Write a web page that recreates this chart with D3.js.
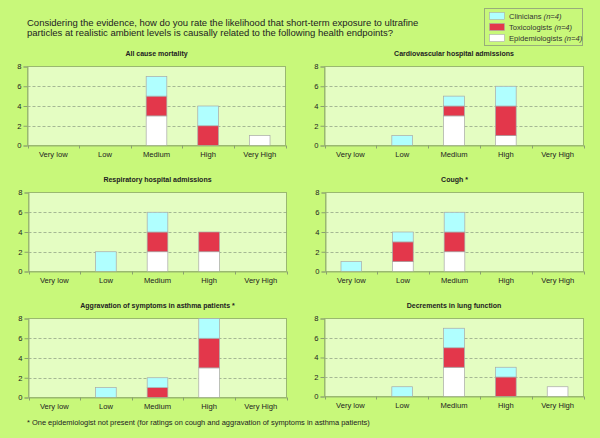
<!DOCTYPE html>
<html><head><meta charset="utf-8">
<script src="https://cdn.jsdelivr.net/npm/d3@7"></script>
<style>body{margin:0;background:#c8f87a;} svg{display:block;font-family:"Liberation Sans",Arial,sans-serif;}</style>
</head><body>
<svg id="c" width="600" height="438"></svg>
<script>
const categories = ["Very low","Low","Medium","High","Very High"];
const groups = ["Epidemiologists","Toxicologists","Clinicians"];
const groupColors = {"Clinicians":"#b0ffff","Toxicologists":"#e3374b","Epidemiologists":"#ffffff"};
const yTicks = [0,2,4,6,8];
const panelTitles = ["All cause mortality","Cardiovascular hospital admissions","Respiratory hospital admissions","Cough *","Aggravation of symptoms in asthma patients *","Decrements in lung function"];
// values per category: [Epidemiologists, Toxicologists, Clinicians]
const mortality      = [[0,0,0],[0,0,0],[3,2,2],[0,2,2],[1,0,0]];
const cardiovascular = [[0,0,0],[0,0,1],[3,1,1],[1,3,2],[0,0,0]];
const respiratory    = [[0,0,0],[0,0,2],[2,2,2],[2,2,0],[0,0,0]];
const cough          = [[0,0,1],[1,2,1],[2,2,2],[0,0,0],[0,0,0]];
const asthma         = [[0,0,0],[0,0,1],[0,1,1],[3,3,2],[0,0,0]];
const lungFunction   = [[0,0,0],[0,0,1],[3,2,2],[0,2,1],[1,0,0]];
const panelData = [mortality,cardiovascular,respiratory,cough,asthma,lungFunction];

const svg = d3.select("#c");
svg.append("rect").attr("width",600).attr("height",438).attr("fill","#c8f87a");

const title = svg.append("text").attr("font-size",9.5).attr("fill","#222");
title.append("tspan").attr("x",27).attr("y",25.5).text("Considering the evidence, how do you rate the likelihood that short-term exposure to ultrafine");
title.append("tspan").attr("x",27).attr("y",35.5).text("particles at realistic ambient levels is causally related to the following health endpoints?");

// legend
const lg = svg.append("g");
lg.append("rect").attr("x",484.5).attr("y",8.5).attr("width",98).attr("height",37).attr("fill","#c8f87a").attr("stroke","#98ad7a");
["Clinicians","Toxicologists","Epidemiologists"].forEach((g,i)=>{
  const y = 12.5 + i*11;
  lg.append("rect").attr("x",489.5).attr("y",y).attr("width",15).attr("height",7).attr("fill",groupColors[g]).attr("stroke","#aaa").attr("stroke-width",0.6);
  const t = lg.append("text").attr("x",509).attr("y",y+6.5).attr("font-size",7.6).attr("fill","#333");
  t.append("tspan").text(g+" ");
  t.append("tspan").attr("font-style","italic").text("(n=4)");
});

const panels = [
  {x0:27.5,x1:285.5,y0:66.5,y1:145.5},
  {x0:324.5,x1:583.5,y0:66.5,y1:145.5},
  {x0:28.5,x1:286.5,y0:192.5,y1:271.5},
  {x0:325.5,x1:583.5,y0:192.5,y1:271.5},
  {x0:28.5,x1:286.5,y0:318.5,y1:397.5},
  {x0:324.5,x1:583.5,y0:318.5,y1:396.5}
];

panels.forEach((p,pi)=>{
  const g = svg.append("g");
  const x = d3.scaleBand().domain(categories).range([p.x0,p.x1]);
  const y = d3.scaleLinear().domain([0,8]).range([p.y1,p.y0]);
  g.append("rect").attr("x",p.x0).attr("y",p.y0).attr("width",p.x1-p.x0).attr("height",p.y1-p.y0).attr("fill","#e4fdc2").attr("stroke","#9ab870").attr("stroke-width",1);
  // grid
  g.selectAll(".grid").data(yTicks.filter(d=>d>0&&d<8)).join("line")
    .attr("x1",p.x0).attr("x2",p.x1).attr("y1",d=>Math.round(y(d))+0.5).attr("y2",d=>Math.round(y(d))+0.5)
    .attr("stroke","#8a9a80").attr("stroke-width",0.7).attr("stroke-dasharray","3,2");
  // title
  g.append("text").attr("x",(p.x0+p.x1)/2).attr("y",p.y0-10.5).attr("text-anchor","middle").attr("font-size",7).attr("font-weight","bold").attr("fill","#222").text(panelTitles[pi]);
  // bars
  const series = d3.stack().keys([0,1,2])(panelData[pi]);
  const bw = x.bandwidth()*0.4;
  series.forEach((s,si)=>{
    g.selectAll(null).data(s.map((d,i)=>({d,i}))).join("rect")
      .filter(o=>o.d[1]-o.d[0]>0)
      .attr("x",o=>x(categories[o.i])+x.bandwidth()/2-bw/2)
      .attr("y",o=>y(o.d[1]))
      .attr("width",bw)
      .attr("height",o=>y(o.d[0])-y(o.d[1]))
      .attr("fill",groupColors[groups[si]])
      .attr("stroke","#a8a8a8").attr("stroke-width",0.7);
  });
  // y axis
  const ya = g.append("g").attr("transform",`translate(${p.x0},0)`).call(d3.axisLeft(y).tickValues(yTicks).tickSize(4).tickPadding(2));
  ya.select(".domain").attr("stroke","#9ab870");
  ya.selectAll(".tick line").attr("stroke","#8aa070");
  ya.selectAll("text").attr("font-size",7.6).attr("fill","#222").attr("font-family","Liberation Sans, Arial, sans-serif");
  // x axis
  const xa = g.append("g").attr("transform",`translate(0,${p.y1})`).call(d3.axisBottom(x).tickSize(0).tickPadding(6));
  xa.select(".domain").attr("stroke","#9ab870");
  xa.selectAll("text").attr("font-size",7.6).attr("fill","#222").attr("font-family","Liberation Sans, Arial, sans-serif");
  // boundary ticks
  const bounds = categories.map(c=>x(c)).concat([p.x1]);
  g.selectAll(null).data(bounds).join("line")
    .attr("x1",d=>Math.round(d)+0.5).attr("x2",d=>Math.round(d)+0.5).attr("y1",p.y1).attr("y2",p.y1+3)
    .attr("stroke","#8aa070");
});

svg.append("text").attr("x",27).attr("y",425).attr("font-size",7.45).attr("fill","#222")
  .text("* One epidemiologist not present (for ratings on cough and aggravation of symptoms in asthma patients)");
</script>
</body></html>
